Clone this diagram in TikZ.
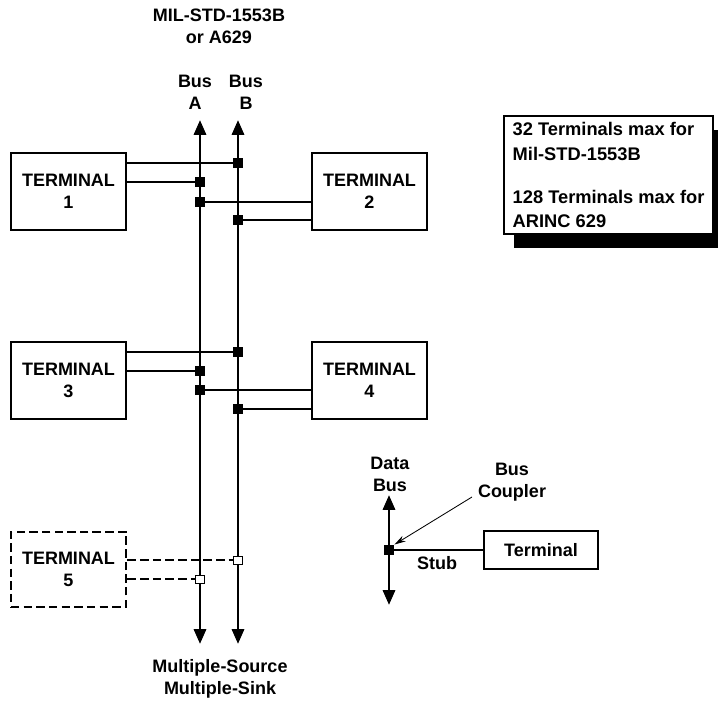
\documentclass[tikz,border=0pt]{standalone}
\usepackage{fontspec}
\setmainfont{Liberation Sans}
\usepackage{tikz}
\usetikzlibrary{arrows.meta,shadows}

\begin{document}
\begin{tikzpicture}[x=0.025cm,y=-0.025cm,
  every node/.style={font=\bfseries\fontsize{12.8}{15.5}\selectfont,align=center},
  term/.style={draw,line width=2.1pt,minimum width=2.875cm,minimum height=1.925cm,inner sep=0pt},
  bus/.style={line width=2.1pt,{Triangle[length=10.5pt,width=8.5pt]}-{Triangle[length=10.5pt,width=8.5pt]}},
  stub/.style={line width=2.1pt},
  coupler/.style={fill=black,minimum size=0.26cm,inner sep=0pt},
  spare/.style={draw,fill=white,line width=0.5pt,minimum width=0.22cm,minimum height=0.2cm,inner sep=0pt},
  dashline/.style={dash pattern=on 6pt off 3pt}]
\useasboundingbox (0,0) rectangle (718,701);

% buses
\coordinate (atop) at (200,120);
\coordinate (abot) at (200,644);
\coordinate (btop) at (238,120);
\coordinate (bbot) at (238,644);
\draw[bus] (abot) -- (atop);
\draw[bus] (bbot) -- (btop);
\node (title) at (219,26) {MIL-STD-1553B\\or A629};
\node (busa) at (195,92) {Bus\\A};
\node (busb) at (246,92) {Bus\\B};
\node (mssink) at (220,679) {Multiple-Source\\Multiple-Sink};

% terminals
\node[term] (t1) at (68.5,191.5) {TERMINAL\\1};
\node[term] (t2) at (369.5,191.5) {TERMINAL\\2};
\node[term] (t3) at (68.5,380.5) {TERMINAL\\3};
\node[term] (t4) at (369.5,380.5) {TERMINAL\\4};
\node[term,dashline,minimum height=1.875cm] (t5) at (68.5,569.5) {TERMINAL\\5};

% couplers
\node[coupler] (c1b) at (238,163) {};
\node[coupler] (c1a) at (200,182) {};
\node[coupler] (c2a) at (200,202) {};
\node[coupler] (c2b) at (238,220) {};
\node[coupler] (c3b) at (238,352) {};
\node[coupler] (c3a) at (200,371) {};
\node[coupler] (c4a) at (200,390) {};
\node[coupler] (c4b) at (238,409) {};
\draw[stub] (t1.east |- c1b) -- (c1b);
\draw[stub] (t1.east |- c1a) -- (c1a);
\draw[stub] (c2a) -- (t2.west |- c2a);
\draw[stub] (c2b) -- (t2.west |- c2b);
\draw[stub] (t3.east |- c3b) -- (c3b);
\draw[stub] (t3.east |- c3a) -- (c3a);
\draw[stub] (c4a) -- (t4.west |- c4a);
\draw[stub] (c4b) -- (t4.west |- c4b);
\draw[stub,dashline] (t5.east |- 0,560) -- (236,560);
\draw[stub,dashline] (t5.east |- 0,579) -- (198,579);
\node[spare] (c5b) at (238,560) {};
\node[spare] (c5a) at (200,579) {};

% note
\node[draw,fill=white,line width=1.5pt,align=left,anchor=north west,
  font=\bfseries\fontsize{13}{17.5}\selectfont,
  minimum width=5.225cm,minimum height=2.95cm,inner sep=2.5pt,
  drop shadow={shadow xshift=0.25cm,shadow yshift=-0.35cm,fill=black,opacity=1}]
  (note) at (503,115) {32 Terminals max for\\Mil-STD-1553B\\[13pt]128 Terminals max for\\ARINC 629};

% legend
\coordinate (dtop) at (389,495);
\coordinate (dbot) at (389,605);
\draw[bus] (dbot) -- (dtop);
\node[term,minimum width=2.85cm,minimum height=0.95cm] (term) at (541,550) {Terminal};
\node[coupler] (dc) at (389,550) {};
\draw[stub] (dc) -- (term.west);
\node (databus) at (390,474) {Data\\Bus};
\node (buscoupler) at (512,482) {Bus\\Coupler};
\node (stub) at (437,563) {Stub};
\coordinate (cpfrom) at (472,497);
\draw[line width=0.6pt,-{Stealth[length=8pt,width=4.5pt]}] (cpfrom) -- (dc.north east);
\end{tikzpicture}
\end{document}
